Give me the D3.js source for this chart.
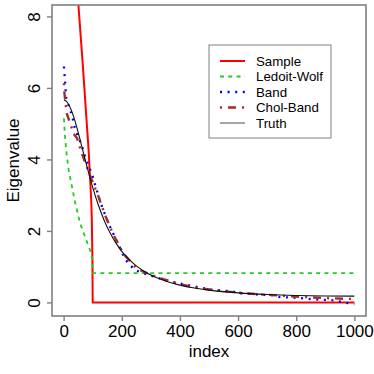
<!DOCTYPE html>
<html><head><meta charset="utf-8">
<script src="https://cdn.jsdelivr.net/npm/d3@7/dist/d3.min.js"></script>
<style>body{margin:0;background:#fff}svg{display:block}</style>
</head><body>
<svg id="chart" width="374" height="374"></svg>
<script>
// ---- data ----
const sampleIdx = [1, 25, 40, 51, 65, 86, 95, 97, 99, 100, 1000];
const sampleVal = [14.5, 11.6, 9.6, 8.3, 6.75, 4.25, 2.85, 2.3, 1.2, 0, 0];

const lwIdx = [1, 3, 6, 11, 17, 29, 40, 57, 74, 91, 99, 100, 1000];
const lwVal = [5.15, 4.85, 4.5, 4.1, 3.72, 3.22, 2.78, 2.2, 1.83, 1.46, 1.2, 0.82, 0.82];

const bandIdx = [1, 3, 5, 7, 9, 17, 29, 38, 48, 60, 75, 97, 109, 126, 152, 171, 189, 206, 223, 246, 269, 297, 349, 374, 423, 503, 531, 580, 603, 669, 718, 743, 800, 840, 874, 926, 977, 1000];
const bandVal = [6.6, 6.38, 6.15, 5.93, 5.71, 5.51, 5.23, 4.89, 4.67, 4.44, 4.05, 3.6, 3.27, 2.81, 2.25, 1.92, 1.61, 1.3, 1.08, 0.91, 0.83, 0.76, 0.62, 0.57, 0.49, 0.36, 0.34, 0.31, 0.26, 0.22, 0.2, 0.15, 0.13, 0.1, 0.08, 0.06, -0.02, -0.05];

const cholIdx = [1, 3, 6, 11, 17, 25, 34, 46, 63, 91, 118, 143, 171, 206, 252, 320, 394, 463, 543, 617, 686, 829, 903, 977, 1000];
const cholVal = [6.13, 5.84, 5.6, 5.28, 5.14, 4.95, 4.72, 4.6, 4.16, 3.55, 3.0, 2.43, 1.9, 1.36, 0.94, 0.71, 0.52, 0.4, 0.32, 0.26, 0.22, 0.15, 0.12, 0.1, 0.1];

const truthIdx = [1, 10, 20, 30, 40, 50, 60, 70, 80, 90, 100, 120, 140, 160, 180, 200, 225, 250, 275, 300, 350, 400, 450, 500, 600, 700, 800, 900, 1000];
const truthVal = [5.666, 5.624, 5.498, 5.301, 5.049, 4.757, 4.445, 4.125, 3.809, 3.506, 3.22, 2.711, 2.287, 1.941, 1.658, 1.429, 1.201, 1.021, 0.88, 0.766, 0.598, 0.483, 0.402, 0.343, 0.266, 0.221, 0.195, 0.181, 0.1765];

const xTicks = [0, 200, 400, 600, 800, 1000];
const yTicks = [0, 2, 4, 6, 8];
const legendLabels = ["Sample", "Ledoit-Wolf", "Band", "Chol-Band", "Truth"];

// ---- drawing ----
const svg = d3.select("#chart");
const font = "'Liberation Sans', Arial, Helvetica, sans-serif";
const L = 52, R = 366, T = 5, B = 316;
const x = d3.scaleLinear().domain([-40, 1040]).range([L, R]);
const y = d3.scaleLinear().domain([-0.38, 8.32]).range([B, T]);

svg.append("rect").attr("width", 374).attr("height", 374).attr("fill", "#fff");

svg.append("defs").append("clipPath").attr("id", "clip")
  .append("rect").attr("x", L).attr("y", T).attr("width", R - L).attr("height", B - T);

const zip = (a, b) => a.map((v, i) => [v, b[i]]);

const series = [
  {idx: sampleIdx, val: sampleVal, color: "#ff0000", w: 2, dash: null},
  {idx: lwIdx, val: lwVal, color: "#22cc22", w: 1.8, dash: "4,4.3"},
  {idx: bandIdx, val: bandVal, color: "#0000ff", w: 2.3, dash: "2,5.6"},
  {idx: cholIdx, val: cholVal, color: "#a52a2a", w: 2.4, dash: "2,6,8,6"},
  {idx: truthIdx, val: truthVal, color: "#111", w: 1.1, dash: null}
];

const g = svg.append("g").attr("clip-path", "url(#clip)");
series.forEach(s => {
  g.append("path").datum(zip(s.idx, s.val))
    .attr("d", d3.line().x(d => x(d[0])).y(d => y(d[1])).curve(s.idx === truthIdx ? d3.curveMonotoneX : d3.curveLinear))
    .attr("fill", "none").attr("stroke", s.color).attr("stroke-width", s.w)
    .attr("stroke-dasharray", s.dash).attr("stroke-linecap", "butt");
});

// box
svg.append("rect").attr("x", L).attr("y", T).attr("width", R - L).attr("height", B - T)
  .attr("fill", "none").attr("stroke", "#808080").attr("stroke-width", 1.6);

// x axis
const xa = svg.append("g").attr("transform", `translate(0,${B})`)
  .call(d3.axisBottom(x).tickValues(xTicks).tickFormat(d3.format("d")).tickSize(5).tickPadding(4).tickSizeOuter(0));
xa.select(".domain").remove();
xa.selectAll("line").attr("stroke", "#808080").attr("stroke-width", 1.4);
xa.selectAll("text").attr("font-family", font).attr("font-size", 17).attr("fill", "#000");

// y axis
const ya = svg.append("g").attr("transform", `translate(${L},0)`)
  .call(d3.axisLeft(y).tickValues(yTicks).tickFormat(d3.format("d")).tickSize(5).tickSizeOuter(0));
ya.select(".domain").remove();
ya.selectAll("line").attr("stroke", "#808080").attr("stroke-width", 1.4);
ya.selectAll("text").attr("font-family", font).attr("font-size", 17).attr("fill", "#000")
  .attr("text-anchor", "middle").attr("dy", null).attr("x", null)
  .attr("transform", "translate(-12.5,0) rotate(-90)");

// titles
svg.append("text").attr("x", (L + R) / 2).attr("y", 357).attr("text-anchor", "middle")
  .attr("font-family", font).attr("font-size", 17).text("index");
svg.append("text").attr("transform", `translate(18.5,${(T + B) / 2}) rotate(-90)`).attr("text-anchor", "middle")
  .attr("font-family", font).attr("font-size", 17).text("Eigenvalue");

// legend
const lg = svg.append("g");
lg.append("rect").attr("x", 209).attr("y", 45).attr("width", 122).attr("height", 93)
  .attr("fill", "#fff").attr("stroke", "#808080").attr("stroke-width", 1);
legendLabels.forEach((lab, i) => {
  const s = series[i];
  const yy = 61 + i * 15.5;
  lg.append("line").attr("x1", 220).attr("x2", 245).attr("y1", yy).attr("y2", yy)
    .attr("stroke", i === 4 ? "#808080" : s.color).attr("stroke-width", i === 4 ? 1.4 : s.w)
    .attr("stroke-dasharray", s.dash);
  lg.append("text").attr("x", 256).attr("y", yy + 4.8).attr("font-family", font)
    .attr("font-size", 13.3).text(lab);
});
</script>
</body></html>
